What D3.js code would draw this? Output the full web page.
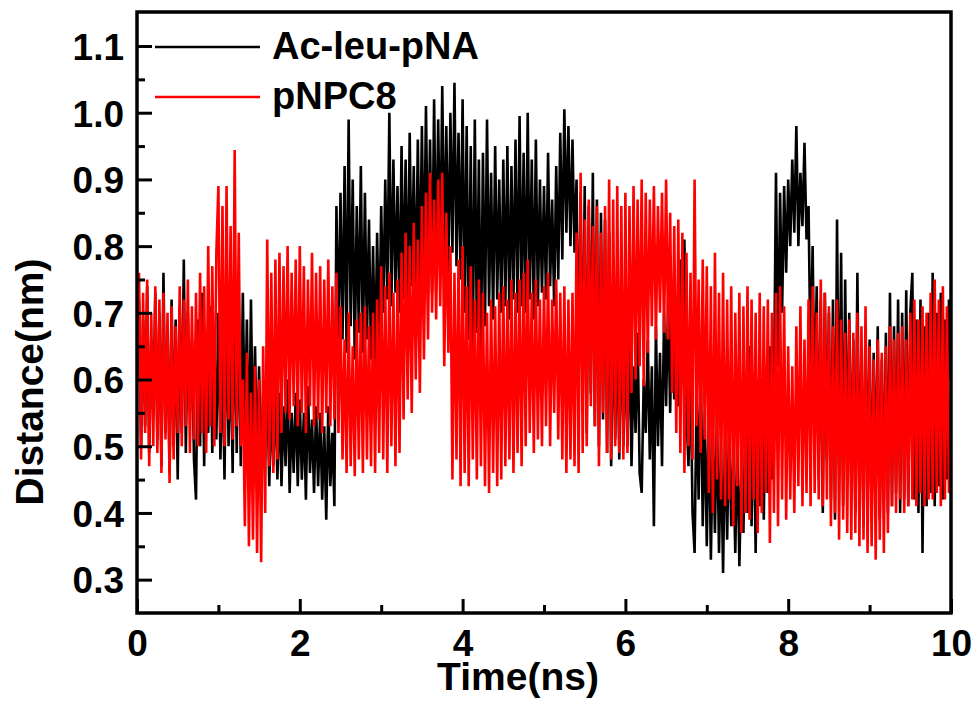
<!DOCTYPE html>
<html><head><meta charset="utf-8">
<script src="https://cdn.jsdelivr.net/npm/d3@7"></script>
<style>
html,body{margin:0;padding:0;background:#fff;}
svg{display:block;}
text{font-family:"Liberation Sans",Arial,Helvetica,sans-serif;font-weight:bold;fill:#000;}
</style></head>
<body>
<svg id="chart" width="978" height="706"></svg>
<script>
// ---- data (time step 0.025 ns, t = 0 .. 10 ns) ----
const timeStep = 0.025;
const xTicks = [0, 2, 4, 6, 8, 10];
const xMinorTicks = [1, 3, 5, 7, 9];
const yTicks = [0.3, 0.4, 0.5, 0.6, 0.7, 0.8, 0.9, 1.0, 1.1];
const yMinorTicks = [0.35, 0.45, 0.55, 0.65, 0.75, 0.85, 0.95, 1.05];
const seriesNames = ["Ac-leu-pNA", "pNPC8"];
const seriesColors = ["#000000", "#ff0000"];

const acLeuPNA = [
0.60,0.72,0.50,0.69,0.53,0.74,0.49,0.66,0.55,0.73,
0.51,0.70,0.47,0.76,0.52,0.68,0.46,0.72,0.50,0.69,
0.45,0.71,0.52,0.78,0.49,0.70,0.55,0.66,0.48,0.42,
0.69,0.50,0.73,0.47,0.67,0.52,0.71,0.49,0.66,0.51,
0.70,0.48,0.64,0.45,0.72,0.50,0.66,0.46,0.74,0.49,
0.71,0.47,0.73,0.52,0.69,0.46,0.72,0.50,0.65,0.47,
0.62,0.45,0.58,0.48,0.60,0.44,0.57,0.47,0.59,0.45,
0.58,0.44,0.56,0.47,0.60,0.43,0.55,0.46,0.58,0.44,
0.57,0.45,0.55,0.42,0.59,0.46,0.54,0.43,0.56,0.44,
0.55,0.42,0.53,0.39,0.56,0.44,0.52,0.41,0.86,0.66,
0.88,0.66,0.92,0.64,0.99,0.68,0.90,0.63,0.86,0.67,
0.92,0.64,0.88,0.66,0.84,0.63,0.80,0.62,0.82,0.65,
0.86,0.70,0.90,0.72,1.00,0.71,0.93,0.73,0.89,0.70,
0.95,0.72,0.93,0.70,0.97,0.74,0.92,0.71,0.96,0.73,
0.98,0.74,1.01,0.76,0.96,0.73,1.02,0.75,0.99,0.77,
1.04,0.78,0.98,0.76,1.00,0.79,1.045,0.77,0.97,0.75,
1.02,0.70,0.98,0.66,0.95,0.64,0.99,0.67,0.93,0.63,
0.94,0.68,0.99,0.71,0.91,0.69,0.95,0.72,0.90,0.70,
0.93,0.71,0.95,0.69,0.92,0.72,0.96,0.70,0.995,0.71,
0.94,0.70,1.00,0.72,0.93,0.69,0.96,0.71,0.90,0.73,
0.89,0.72,0.94,0.74,0.87,0.71,0.92,0.75,0.97,0.78,
1.005,0.82,0.98,0.80,0.96,0.79,0.90,0.60,0.88,0.55,
0.89,0.52,0.86,0.58,0.91,0.53,0.87,0.50,0.85,0.54,
0.84,0.49,0.82,0.47,0.70,0.51,0.68,0.48,0.71,0.50,
0.66,0.50,0.68,0.47,0.62,0.52,0.67,0.46,0.43,0.60,
0.52,0.66,0.48,0.62,0.38,0.68,0.50,0.64,0.47,0.70,
0.56,0.72,0.55,0.74,0.57,0.70,0.56,0.78,0.60,0.81,
0.55,0.47,0.62,0.40,0.34,0.58,0.42,0.64,0.38,0.55,
0.35,0.56,0.33,0.52,0.37,0.55,0.34,0.50,0.31,0.53,
0.36,0.54,0.38,0.48,0.34,0.52,0.32,0.47,0.37,0.55,
0.40,0.65,0.38,0.58,0.34,0.60,0.41,0.56,0.39,0.62,
0.43,0.65,0.45,0.58,0.91,0.62,0.88,0.70,0.89,0.76,
0.90,0.80,0.93,0.82,0.98,0.80,0.91,0.83,0.955,0.81,
0.86,0.62,0.80,0.55,0.74,0.45,0.72,0.40,0.73,0.48,
0.70,0.42,0.72,0.39,0.84,0.47,0.79,0.41,0.75,0.45,
0.70,0.44,0.66,0.40,0.76,0.42,0.64,0.38,0.68,0.43,
0.66,0.41,0.64,0.44,0.68,0.39,0.63,0.42,0.67,0.40,
0.73,0.41,0.68,0.43,0.72,0.40,0.70,0.42,0.734,0.41,
0.70,0.76,0.42,0.69,0.40,0.72,0.34,0.68,0.41,0.70,
0.43,0.76,0.41,0.70,0.44,0.73,0.42,0.69,0.45,0.72,
0.60
];

const pNPC8 = [
0.65,0.76,0.48,0.73,0.52,0.75,0.47,0.70,0.50,0.74,
0.49,0.72,0.46,0.73,0.51,0.70,0.445,0.71,0.48,0.68,
0.52,0.74,0.50,0.72,0.53,0.75,0.49,0.71,0.51,0.73,
0.50,0.76,0.52,0.74,0.49,0.80,0.53,0.77,0.50,0.79,
0.89,0.52,0.86,0.50,0.89,0.54,0.83,0.51,0.944,0.53,
0.82,0.50,0.60,0.38,0.64,0.35,0.58,0.36,0.62,0.34,
0.60,0.326,0.65,0.40,0.81,0.47,0.76,0.46,0.78,0.48,
0.79,0.52,0.77,0.55,0.80,0.54,0.76,0.56,0.78,0.53,
0.80,0.55,0.77,0.52,0.75,0.56,0.79,0.53,0.76,0.54,
0.77,0.52,0.75,0.55,0.78,0.53,0.74,0.54,0.76,0.52,
0.71,0.48,0.66,0.46,0.70,0.47,0.65,0.455,0.69,0.48,
0.70,0.46,0.71,0.48,0.68,0.47,0.70,0.46,0.72,0.49,
0.77,0.48,0.74,0.46,0.76,0.50,0.73,0.47,0.75,0.49,
0.79,0.54,0.82,0.57,0.80,0.55,0.835,0.60,0.81,0.58,
0.86,0.63,0.88,0.66,0.91,0.70,0.87,0.69,0.90,0.71,
0.91,0.62,0.85,0.64,0.80,0.45,0.76,0.48,0.78,0.44,
0.80,0.46,0.74,0.44,0.77,0.48,0.72,0.45,0.75,0.47,
0.73,0.44,0.70,0.43,0.72,0.46,0.71,0.44,0.73,0.45,
0.74,0.47,0.72,0.48,0.75,0.46,0.73,0.49,0.75,0.47,
0.76,0.50,0.78,0.52,0.73,0.49,0.75,0.51,0.72,0.50,
0.74,0.53,0.76,0.50,0.72,0.55,0.75,0.51,0.73,0.48,
0.74,0.46,0.72,0.48,0.73,0.47,0.82,0.46,0.91,0.49,
0.84,0.50,0.87,0.56,0.83,0.53,0.86,0.47,0.82,0.55,
0.86,0.49,0.90,0.48,0.87,0.50,0.89,0.49,0.86,0.48,
0.88,0.49,0.86,0.58,0.89,0.60,0.87,0.62,0.90,0.59,
0.88,0.64,0.87,0.68,0.89,0.66,0.86,0.70,0.88,0.67,
0.90,0.66,0.85,0.58,0.83,0.52,0.84,0.49,0.82,0.46,
0.79,0.50,0.76,0.48,0.90,0.53,0.75,0.49,0.78,0.51,
0.77,0.43,0.74,0.40,0.79,0.45,0.73,0.42,0.76,0.41,
0.72,0.42,0.74,0.38,0.70,0.44,0.73,0.37,0.71,0.40,
0.74,0.39,0.72,0.42,0.70,0.37,0.73,0.40,0.71,0.43,
0.72,0.355,0.70,0.40,0.73,0.38,0.74,0.42,0.71,0.39,
0.65,0.42,0.62,0.40,0.68,0.44,0.71,0.41,0.66,0.43,
0.72,0.41,0.74,0.43,0.70,0.42,0.75,0.41,0.73,0.42,
0.71,0.38,0.68,0.40,0.72,0.36,0.69,0.39,0.67,0.37,
0.69,0.36,0.67,0.37,0.70,0.35,0.68,0.36,0.71,0.34,
0.65,0.35,0.63,0.33,0.66,0.36,0.64,0.34,0.65,0.37,
0.68,0.41,0.66,0.40,0.67,0.42,0.68,0.40,0.66,0.41,
0.70,0.42,0.72,0.41,0.69,0.43,0.71,0.41,0.70,0.42,
0.73,0.42,0.75,0.43,0.72,0.41,0.74,0.42,0.71,0.43,
0.58
];

// ---- layout ----
const svg = d3.select("#chart");
const L = 137, T = 12, R = 951, B = 613;
const x = d3.scaleLinear().domain([0, 10]).range([L, R]);
const y = d3.scaleLinear().domain([0.25, 1.151]).range([B, T]);

svg.append("defs").append("clipPath").attr("id", "clip")
  .append("rect").attr("x", L).attr("y", T).attr("width", R - L).attr("height", B - T);

const line = d3.line().x((d, i) => x(i * timeStep)).y(d => y(d));
const plot = svg.append("g").attr("clip-path", "url(#clip)");
[acLeuPNA, pNPC8].forEach((s, k) => {
  plot.append("path").datum(s).attr("d", line)
    .attr("fill", "none").attr("stroke", seriesColors[k])
    .attr("stroke-width", 2.6).attr("stroke-linejoin", "bevel");
});

// ---- axes (ticks inward) ----
const axisW = 3.5;
const xAxis = svg.append("g").attr("transform", `translate(0,${B})`)
  .call(d3.axisBottom(x).tickValues(xTicks).tickSize(-14).tickFormat(d3.format("d")).tickPadding(0));
xAxis.select(".domain").remove();
xAxis.selectAll(".tick line").attr("stroke", "#000").attr("stroke-width", 3);
xAxis.selectAll(".tick text").attr("font-size", 37).attr("y", 43).attr("dy", 0);

const xMinor = svg.append("g").attr("transform", `translate(0,${B})`)
  .call(d3.axisBottom(x).tickValues(xMinorTicks).tickSize(-8).tickFormat(""));
xMinor.select(".domain").remove();
xMinor.selectAll(".tick line").attr("stroke", "#000").attr("stroke-width", 3);

const yAxis = svg.append("g").attr("transform", `translate(${L},0)`)
  .call(d3.axisLeft(y).tickValues(yTicks).tickSize(-15).tickFormat(d3.format(".1f")));
yAxis.select(".domain").remove();
yAxis.selectAll(".tick line").attr("stroke", "#000").attr("stroke-width", 3);
yAxis.selectAll(".tick text").attr("font-size", 37).attr("x", -13).attr("dy", "0.36em");

const yMinor = svg.append("g").attr("transform", `translate(${L},0)`)
  .call(d3.axisLeft(y).tickValues(yMinorTicks).tickSize(-8).tickFormat(""));
yMinor.select(".domain").remove();
yMinor.selectAll(".tick line").attr("stroke", "#000").attr("stroke-width", 3);

// frame
svg.append("rect").attr("x", L).attr("y", T).attr("width", R - L).attr("height", B - T)
  .attr("fill", "none").attr("stroke", "#000").attr("stroke-width", axisW);

// ---- axis titles ----
svg.append("text").attr("x", 518).attr("y", 690).attr("text-anchor", "middle")
  .attr("font-size", 39).text("Time(ns)");
svg.append("text").attr("transform", "translate(43,382) rotate(-90)").attr("text-anchor", "middle")
  .attr("font-size", 39).text("Distance(nm)");

// ---- legend ----
const legY = [47, 97];
seriesNames.forEach((n, k) => {
  svg.append("line").attr("x1", 155).attr("x2", 260).attr("y1", legY[k]).attr("y2", legY[k])
    .attr("stroke", seriesColors[k]).attr("stroke-width", 2.5);
  svg.append("text").attr("x", 272).attr("y", legY[k] + 12).attr("font-size", 38).text(n);
});
</script>
</body></html>
